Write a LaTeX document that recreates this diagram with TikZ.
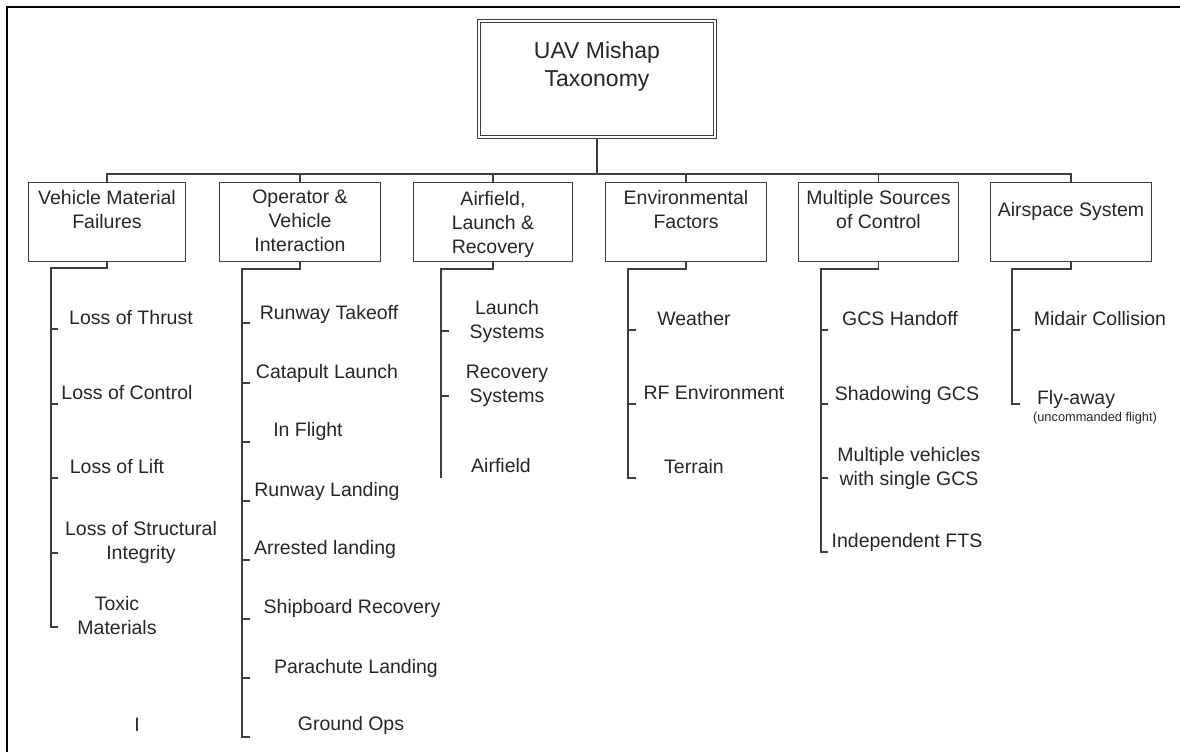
\documentclass[tikz,border=0pt]{standalone}
\usepackage{fontspec}
\setmainfont{Liberation Sans}
\begin{document}
\definecolor{linegray}{RGB}{62,62,62}
\definecolor{txtgray}{RGB}{38,38,38}
\tikzset{
  conn/.style={draw=linegray, line width=1.2pt},
  catbox/.style={draw=linegray, line width=1.3pt, minimum height=79pt, inner sep=0pt},
  rootbox/.style={draw=linegray, double=white, double distance=2pt, line width=1pt,
    minimum width=236pt, minimum height=116pt, inner sep=0pt},
  roottext/.style={anchor=north, align=center, inner sep=0pt, text=txtgray,
    font=\fontsize{23}{28}\selectfont},
  cattext/.style={anchor=north, align=center, inner sep=0pt, text=txtgray,
    font=\fontsize{19.5}{24}\selectfont},
  item/.style={anchor=north, align=center, inner sep=0pt, text=txtgray,
    font=\fontsize{19.5}{24}\selectfont},
  note/.style={anchor=north, align=center, inner sep=0pt, text=txtgray,
    font=\fontsize{12.8}{15}\selectfont},
}
\begin{tikzpicture}[x=1pt, y=-1pt]
\useasboundingbox (0,0) rectangle (1180,752);

% outer frame (top and left edges)
\draw[line width=2.5pt, black] (7,752) -- (7,7) -- (1180,7);

% root
\node[rootbox] (root) at (597,79) {};
\node[roottext] (roott) at (597,42) {UAV Mishap\\Taxonomy};

% categories
\node[catbox, minimum width=157pt] (b1) at (107,222) {};
\node[catbox, minimum width=161pt] (b2) at (300,222) {};
\node[catbox, minimum width=159pt] (b3) at (493,222) {};
\node[catbox, minimum width=161pt] (b4) at (686,222) {};
\node[catbox, minimum width=160pt] (b5) at (878.5,222) {};
\node[catbox, minimum width=161pt] (b6) at (1071,222) {};

\node[cattext] (b1t) at (107,190) {Vehicle Material\\Failures};
\node[cattext] (b2t) at (300,190) {Operator \&\\Vehicle\\Interaction};
\node[cattext] (b3t) at (493,191) {Airfield,\\Launch \&\\Recovery};
\node[cattext] (b4t) at (686,190) {Environmental\\Factors};
\node[cattext] (b5t) at (878.5,190) {Multiple Sources\\of Control};
\node[cattext] (b6t) at (1071,202) {Airspace System};

% bus from root to categories
\coordinate (bus) at (597,174);
\draw[conn] (root.south) -- (bus);
\draw[conn] (b1.north) -- (b1.north |- bus) -- (b6.north |- bus) -- (b6.north);
\foreach \b in {b2,b3,b4,b5} \draw[conn] (\b.north) -- (\b.north |- bus);

% column 1: vehicle material failures
\coordinate (s1top) at (51,268);
\coordinate (s1end) at (51,627);
\draw[conn] (b1.south) |- (s1top) -- (s1end) -- ++(7,0);
\foreach \y in {329,404,478,553} \draw[conn] (51,\y) -- ++(7,0);
\node[item] (i11) at (131,310) {Loss of Thrust};
\node[item] (i12) at (127,385) {Loss of Control};
\node[item] (i13) at (117,459) {Loss of Lift};
\node[item] (i14) at (141,521) {Loss of Structural\\Integrity};
\node[item] (i15) at (117,596) {Toxic\\Materials};
\node[item] (i16) at (137,718) {I};

% column 2: operator & vehicle interaction
\coordinate (s2top) at (242,269);
\coordinate (s2end) at (242,737);
\draw[conn] (b2.south) |- (s2top) -- (s2end) -- ++(8,0);
\foreach \y in {323,383,442,501,560,619,678} \draw[conn] (242,\y) -- ++(8,0);
\node[item] (i21) at (329,305) {Runway Takeoff};
\node[item] (i22) at (327,364) {Catapult Launch};
\node[item] (i23) at (308,422) {In Flight};
\node[item] (i24) at (327,482) {Runway Landing};
\node[item] (i25) at (325,540) {Arrested landing};
\node[item] (i26) at (352,599) {Shipboard Recovery};
\node[item] (i27) at (356,659) {Parachute Landing};
\node[item] (i28) at (351,716) {Ground Ops};

% column 3: airfield, launch & recovery
\coordinate (s3top) at (441,269);
\coordinate (s3end) at (441,478);
\draw[conn] (b3.south) |- (s3top) -- (s3end);
\foreach \y in {331,396} \draw[conn] (441,\y) -- ++(8,0);
\node[item] (i31) at (507,300) {Launch\\Systems};
\node[item] (i32) at (507,365) {Recovery\\Systems};
\node[item] (i33) at (501,458) {Airfield};

% column 4: environmental factors
\coordinate (s4top) at (628,269);
\coordinate (s4end) at (628,478);
\draw[conn] (b4.south) |- (s4top) -- (s4end) -- ++(8,0);
\foreach \y in {330,404} \draw[conn] (628,\y) -- ++(8,0);
\node[item] (i41) at (694,311) {Weather};
\node[item] (i42) at (714,385) {RF Environment};
\node[item] (i43) at (694,459) {Terrain};

% column 5: multiple sources of control
\coordinate (s5top) at (821,269);
\coordinate (s5end) at (821,552);
\draw[conn] (b5.south) |- (s5top) -- (s5end) -- ++(7,0);
\foreach \y in {330,404,478} \draw[conn] (821,\y) -- ++(7,0);
\node[item] (i51) at (900,311) {GCS Handoff};
\node[item] (i52) at (907,386) {Shadowing GCS};
\node[item] (i53) at (909,447) {Multiple vehicles\\with single GCS};
\node[item] (i54) at (907,533) {Independent FTS};

% column 6: airspace system
\coordinate (s6top) at (1012,269);
\coordinate (s6end) at (1012,404);
\draw[conn] (b6.south) |- (s6top) -- (s6end) -- ++(8,0);
\draw[conn] (1012,330) -- ++(8,0);
\node[item] (i61) at (1100,311) {Midair Collision};
\node[item] (i62) at (1076,390) {Fly-away};
\node[note] (i63) at (1095,412) {(uncommanded flight)};
\end{tikzpicture}
\end{document}
